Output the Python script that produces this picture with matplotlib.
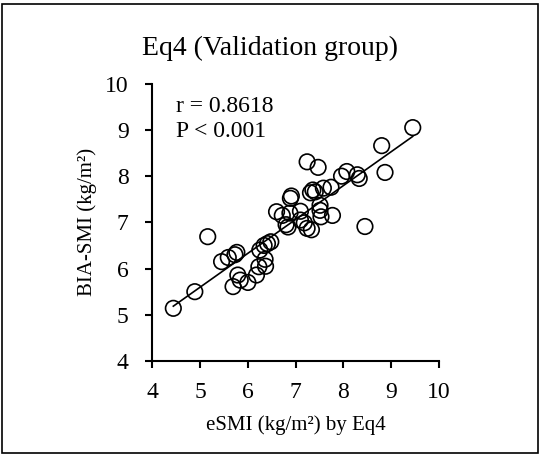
import numpy as np
import matplotlib
matplotlib.use("Agg")
import matplotlib.pyplot as plt
from matplotlib.patches import Rectangle

plt.rcParams['font.family'] = ['Liberation Serif', 'DejaVu Serif']

# eSMI by Eq4 (x) and BIA-SMI (y), kg/m2
esmi = [4.44, 4.89, 5.16, 5.45, 5.59, 5.73, 5.77, 5.69, 5.79, 5.84,
        6.00, 6.18, 6.23, 6.37, 6.36, 6.25, 6.34, 6.41, 6.48, 6.60,
        6.72, 6.80, 6.89, 6.91, 6.88, 6.84, 7.10, 7.10, 7.18, 7.24,
        7.33, 7.24, 7.47, 7.31, 7.36, 7.41, 7.58, 7.74, 7.51, 7.51,
        7.53, 7.77, 7.96, 8.07, 8.29, 8.33, 8.80, 8.87, 8.45, 9.45]
bia_smi = [5.14, 5.50, 6.69, 6.15, 6.24, 6.30, 6.35, 5.61, 5.86, 5.75,
           5.70, 5.86, 6.04, 6.05, 6.20, 6.40, 6.50, 6.54, 6.58, 7.23,
           7.15, 6.95, 7.52, 7.57, 7.20, 6.90, 7.24, 7.05, 6.99, 6.87,
           6.84, 8.31, 8.19, 7.64, 7.70, 7.66, 7.74, 7.76, 7.37, 7.26,
           7.12, 7.15, 8.00, 8.10, 8.03, 7.95, 8.66, 8.08, 6.91, 9.05]

ticks = [4, 5, 6, 7, 8, 9, 10]

fig = plt.figure(figsize=(5.41, 4.55), dpi=100)
ax = fig.add_axes([0.2815, 0.2066, 0.53, 0.6094])

ax.scatter(esmi, bia_smi, s=125, facecolors='none', edgecolors='black',
           linewidths=1.2, zorder=3)

# least squares trend line
slope, intercept = np.polyfit(esmi, bia_smi, 1)
xs = np.array([min(esmi), max(esmi)])
ax.plot(xs, slope * xs + intercept, color='black', lw=1.2, zorder=2)

ax.set_xlim(4, 10)
ax.set_ylim(4, 10)
ax.set_xticks(ticks)
ax.set_yticks(ticks)
ax.tick_params(direction='out', length=5, width=1.5, labelsize=17)
ax.tick_params(axis='x', pad=10)
ax.tick_params(axis='y', pad=12)
for side in ['top', 'right']:
    ax.spines[side].set_visible(False)
for side in ['left', 'bottom']:
    ax.spines[side].set_linewidth(1.5)

ax.set_xlabel('eSMI (kg/m²) by Eq4', fontsize=15, labelpad=9)
ax.set_ylabel('BIA-SMI (kg/m²)', fontsize=15, labelpad=6)
ax.text(4.5, 9.5, 'r = 0.8618', fontsize=17, va='center')
ax.text(4.5, 8.96, 'P < 0.001', fontsize=17, va='center')

fig.text(0.5, 1 - 48 / 455, 'Eq4 (Validation group)', fontsize=20,
         ha='center', va='center')

fig.patches.append(Rectangle((0.004, 0.004), 0.99, 0.988, transform=fig.transFigure,
                             fill=False, edgecolor='black', lw=1.2))

fig.savefig('out.png', dpi=100)
